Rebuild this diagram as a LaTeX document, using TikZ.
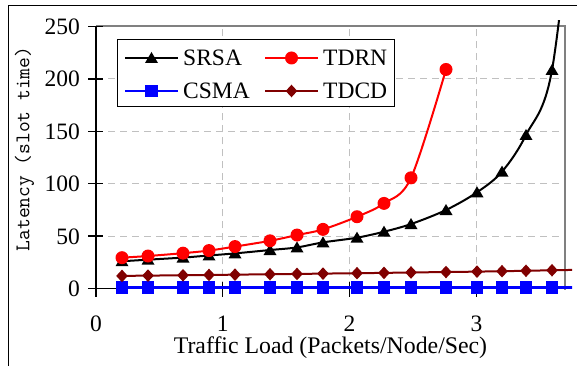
\documentclass[tikz,border=0pt]{standalone}
\usepackage{fontspec}
\setmainfont{Liberation Serif}
\usetikzlibrary{plotmarks}
\definecolor{tdcdred}{RGB}{128,0,0}
\definecolor{gridgray}{RGB}{192,192,192}
\definecolor{framegray}{RGB}{128,128,128}
\pgfdeclareplotmark{mtri}{\pgfpathmoveto{\pgfqpoint{0pt}{6pt}}\pgfpathlineto{\pgfqpoint{-6.5pt}{-5pt}}\pgfpathlineto{\pgfqpoint{6.5pt}{-5pt}}\pgfpathclose\pgfusepathqfill}
\pgfdeclareplotmark{mcirc}{\pgfpathcircle{\pgfpointorigin}{6.5pt}\pgfusepathqfill}
\pgfdeclareplotmark{msq}{\pgfpathrectangle{\pgfqpoint{-6.3pt}{-6.3pt}}{\pgfqpoint{12.6pt}{12.6pt}}\pgfusepathqfill}
\pgfdeclareplotmark{mdia}{\pgfpathmoveto{\pgfqpoint{0pt}{6.3pt}}\pgfpathlineto{\pgfqpoint{5.8pt}{0pt}}\pgfpathlineto{\pgfqpoint{0pt}{-6.3pt}}\pgfpathlineto{\pgfqpoint{-5.8pt}{0pt}}\pgfpathclose\pgfusepathqfill}
\tikzset{
  gridline/.style={gridgray, line width=1pt, dash pattern=on 7pt off 5pt},
  srsaline/.style={black, line width=2pt},
  csmaline/.style={blue, line width=2.5pt},
  tdrnline/.style={red, line width=2pt},
  tdcdline/.style={tdcdred, line width=2pt},
  ticklabel/.style={font=\fontsize{23.5}{28}\selectfont, inner sep=0pt},
}
\begin{document}
\begin{tikzpicture}[x=1pt,y=1pt]
\useasboundingbox (0,0) rectangle (577,366);
% outer frame
\draw[line width=1.5pt] (8.3,0) -- (8.3,360.7) -- (577,360.7);
% y title
\node[rotate=90, font=\ttfamily\fontsize{20.9}{24}\selectfont, inner sep=0pt] (ytitle) at (24.5,217) {Latency (slot time)};
\begin{scope}[shift={(0,77.5)}, y=1.048pt]
  % grid
  \foreach \v in {50,100,150,200} \draw[gridline] (96,\v) -- (565,\v);
  \foreach \u in {222.8,349.6,476.4} \draw[gridline] (\u,0) -- (\u,250);
  % plot frame
  \draw[framegray, line width=2pt] (96,250) -- (565,250) -- (565,-1);
  \draw[line width=1.8pt] (96,250) -- (96,0) -- (565,0);
  % ticks
  \foreach \v in {0,50,100,150,200,250} \draw[line width=1.3pt] (88,\v) -- (103,\v);
  \foreach \u in {96,222.8,349.6,476.4} \draw[line width=1.3pt] (\u,6.2) -- (\u,-8.1);
  % tick labels
  \foreach \v in {0,50,100,150,200,250}
    \node[ticklabel, anchor=base east, yshift=-8pt] (yl\v) at (80,\v) {\v};
  \node[ticklabel, anchor=base, yshift=-43.2pt] (xl0) at (96,0) {0};
  \node[ticklabel, anchor=base, yshift=-43.2pt] (xl1) at (222.8,0) {1};
  \node[ticklabel, anchor=base, yshift=-43.2pt] (xl2) at (349.6,0) {2};
  \node[ticklabel, anchor=base, yshift=-43.2pt] (xl3) at (476.4,0) {3};
  \node[font=\fontsize{23.8}{28}\selectfont, inner sep=0pt, anchor=base, yshift=-64.8pt] (xtitle) at (330.5,0) {Traffic Load (Packets/Node/Sec)};
  % series lines
  \begin{scope}
    \clip (96,-10) rectangle (572,255.5);
    \draw[srsaline] plot[smooth, tension=0.55] coordinates {(122,26) (148,27.5) (183,29.5) (209,31.5) (235,33.5) (270,36.7) (297,39.2) (323,44) (357,48.5) (384,54.2) (411,61.5) (446,74.9) (477,91.8) (502,111.5) (526,146.5) (552,208.5) (578,420)};
    \draw[srsaline] plot[only marks, mark=mtri] coordinates {(122,26) (148,27.5) (183,29.5) (209,31.5) (235,33.5) (270,36.7) (297,39.2) (323,44) (357,48.5) (384,54.2) (411,61.5) (446,74.9) (477,91.8) (502,111.5) (526,146.5) (552,208.5)};
    \draw[csmaline] plot coordinates {(122,0.8) (578,0.8)};
    \draw[csmaline] plot[only marks, mark=msq] coordinates {(122,0.8) (148,0.8) (183,0.8) (209,0.8) (235,0.8) (270,0.8) (297,0.8) (323,0.8) (357,0.8) (384,0.8) (411,0.8) (446,0.8) (477,0.8) (502,0.8) (526,0.8) (552,0.8)};
    \draw[tdrnline] plot[smooth, tension=0.55] coordinates {(122,29.4) (148,31) (183,33.7) (209,36.2) (235,40) (270,45.5) (297,51) (323,56.4) (357,68.5) (384,81.2) (411,105.6) (446,209)};
    \draw[tdrnline] plot[only marks, mark=mcirc] coordinates {(122,29.4) (148,31) (183,33.7) (209,36.2) (235,40) (270,45.5) (297,51) (323,56.4) (357,68.5) (384,81.2) (411,105.6) (446,209)};
    \draw[tdcdline] plot[smooth, tension=0.55] coordinates {(122,12) (148,12.3) (183,12.6) (209,12.9) (235,13.2) (270,13.6) (297,13.9) (323,14.2) (357,14.6) (384,14.9) (411,15.3) (446,15.7) (477,16.1) (502,16.5) (526,16.9) (552,17.4) (578,17.8)};
    \draw[tdcdline] plot[only marks, mark=mdia] coordinates {(122,12) (148,12.3) (183,12.6) (209,12.9) (235,13.2) (270,13.6) (297,13.9) (323,14.2) (357,14.6) (384,14.9) (411,15.3) (446,15.7) (477,16.1) (502,16.5) (526,16.9) (552,17.4)};
  \end{scope}
\end{scope}
% legend
\node[draw, line width=1.3pt, fill=white, minimum width=277pt, minimum height=67pt, anchor=south west, inner sep=0pt] (legend) at (117,259) {};
\coordinate (la1) at (125,308); \coordinate (lb1) at (178,308);
\coordinate (la2) at (125,275); \coordinate (lb2) at (178,275);
\coordinate (la3) at (265,308); \coordinate (lb3) at (318,308);
\coordinate (la4) at (265,275); \coordinate (lb4) at (318,275);
\draw[srsaline] (la1) -- (lb1);
\draw[srsaline] plot[only marks, mark=mtri] coordinates {(151.5,308)};
\draw[csmaline] (la2) -- (lb2);
\draw[csmaline] plot[only marks, mark=msq] coordinates {(151.5,275)};
\draw[tdrnline] (la3) -- (lb3);
\draw[tdrnline] plot[only marks, mark=mcirc] coordinates {(291.5,308)};
\draw[tdcdline] (la4) -- (lb4);
\draw[tdcdline] plot[only marks, mark=mdia] coordinates {(291.5,275)};
\node[ticklabel, anchor=base west] (lsrsa) at (183,300) {SRSA};
\node[ticklabel, anchor=base west] (lcsma) at (183,267) {CSMA};
\node[ticklabel, anchor=base west] (ltdrn) at (323,300) {TDRN};
\node[ticklabel, anchor=base west] (ltdcd) at (323,267) {TDCD};
\end{tikzpicture}
\end{document}
